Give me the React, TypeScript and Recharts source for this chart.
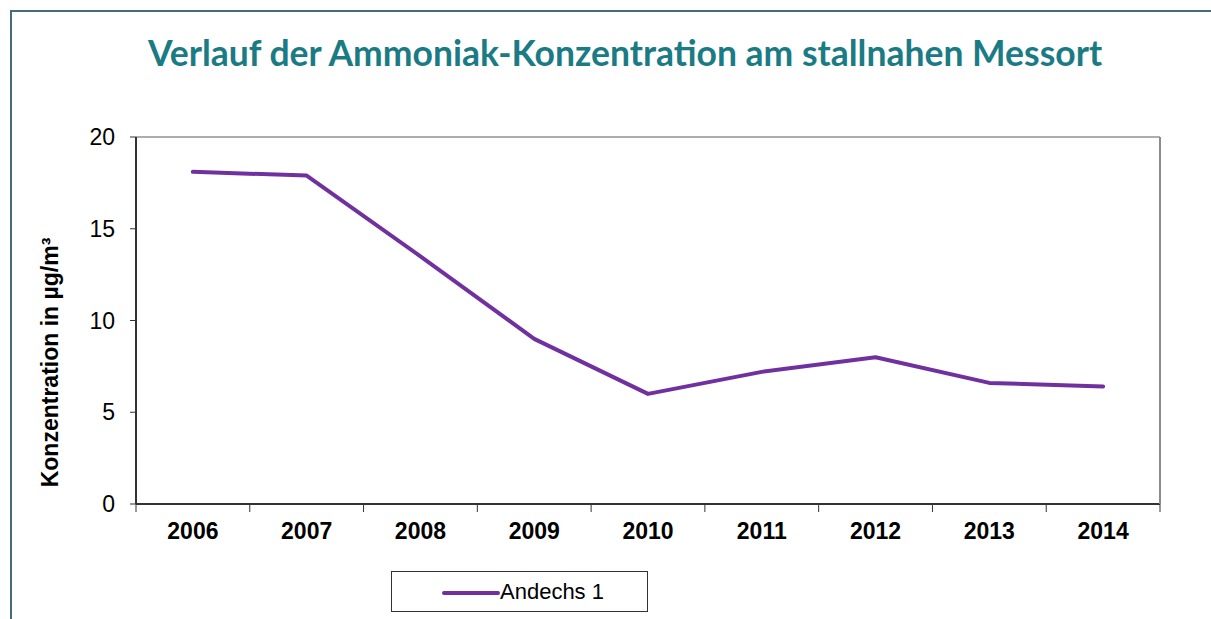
import { CartesianGrid, Line, LineChart, XAxis, YAxis } from "recharts";

const years = ["2006", "2007", "2008", "2009", "2010", "2011", "2012", "2013", "2014"];
const andechs1 = [18.1, 17.9, 13.5, 9.0, 6.0, 7.2, 8.0, 6.6, 6.4];
const yTicks = [0, 5, 10, 15, 20];

const data = years.map((year, i) => ({ year, andechs1: andechs1[i] }));

const PURPLE = "#7030a0";
const FONT = "'Liberation Sans', Arial, sans-serif";
const AXIS_Y = 504;

function YLabel(props: any) {
  const { viewBox } = props;
  const x = 50;
  const y = viewBox.y + viewBox.height / 2 + 42;
  return (
    <text
      x={x}
      y={y}
      transform={`rotate(-90, ${x}, ${y})`}
      textAnchor="middle"
      dominantBaseline="central"
      fontFamily={FONT}
      fontSize={23}
      fontWeight="bold"
      fill="#000"
    >
      Konzentration in µg/m³
    </text>
  );
}

// Excel style: tick marks sit between the categories, labels in the middle
function YearTick(props: any) {
  const { x, y, payload, index } = props;
  const half = payload?.offset ?? 57;
  const last = index === years.length - 1;
  return (
    <g>
      <line x1={x - half} y1={AXIS_Y} x2={x - half} y2={AXIS_Y + 8} stroke="#333" />
      {last && <line x1={x + half} y1={AXIS_Y} x2={x + half} y2={AXIS_Y + 8} stroke="#333" />}
      <text
        x={x}
        y={y}
        dy="0.71em"
        textAnchor="middle"
        fontFamily={FONT}
        fontSize={23}
        fontWeight="bold"
        fill="#000"
      >
        {payload.value}
      </text>
    </g>
  );
}

export default function App() {
  return (
    <div
      style={{
        position: "absolute",
        left: 0,
        top: 0,
        width: 1211,
        height: 619,
        background: "#fff",
        overflow: "hidden",
      }}
    >
      {/* frame of the original slide */}
      <div
        style={{
          position: "absolute",
          left: 10,
          top: 10,
          width: 1220,
          height: 640,
          borderTop: "2px solid #416c82",
          borderLeft: "2px solid #416c82",
        }}
      />
      <div
        style={{
          position: "absolute",
          left: 0,
          top: 31,
          width: 1250,
          textAlign: "center",
          fontFamily: "Lato, sans-serif",
          fontWeight: "bold",
          fontSize: 35.5,
          color: "#1b7b84",
        }}
      >
        Verlauf der Ammoniak-Konzentration am stallnahen Messort
      </div>

      <div style={{ position: "absolute", left: 0, top: 0 }}>
        <LineChart
          width={1211}
          height={619}
          data={data}
          margin={{ top: 137, right: 50, bottom: 75, left: 76 }}
        >
          <CartesianGrid horizontal vertical={false} stroke="#5a5a5a" />
          <XAxis
            dataKey="year"
            scale="band"
            axisLine={{ stroke: "#333", strokeWidth: 2 }}
            tickLine={false}
            tickSize={8}
            tickMargin={11}
            height={40}
            interval={0}
            tick={<YearTick />}
          />
          <YAxis
            yAxisId="left"
            domain={[0, 20]}
            ticks={yTicks}
            width={60}
            axisLine={{ stroke: "#333", strokeWidth: 2 }}
            tickLine={{ stroke: "#333" }}
            tickSize={6}
            tickMargin={15}
            tick={{ fontFamily: FONT, fontSize: 23, fill: "#000" }}
            label={<YLabel />}
          />
          <YAxis
            yAxisId="right"
            orientation="right"
            domain={[0, 20]}
            axisLine={{ stroke: "#8c8c8c", strokeWidth: 2 }}
            tick={false}
            tickLine={false}
            width={1}
          />
          <Line
            yAxisId="left"
            type="linear"
            dataKey="andechs1"
            name="Andechs 1"
            stroke={PURPLE}
            strokeWidth={4}
            strokeLinecap="round"
            strokeLinejoin="round"
            dot={false}
            isAnimationActive={false}
          />
        </LineChart>
      </div>

      {/* legend box */}
      <div
        style={{
          position: "absolute",
          left: 391,
          top: 571,
          width: 255,
          height: 39,
          border: "1px solid #333",
          boxSizing: "content-box",
          fontFamily: FONT,
          fontSize: 22,
          color: "#000",
        }}
      >
        <svg width={60} height={39} style={{ position: "absolute", left: 48, top: 0 }}>
          <line x1={4} y1={21} x2={58} y2={21} stroke={PURPLE} strokeWidth={4} strokeLinecap="round" />
        </svg>
        <span style={{ position: "absolute", left: 108, top: 7 }}>Andechs 1</span>
      </div>
    </div>
  );
}
